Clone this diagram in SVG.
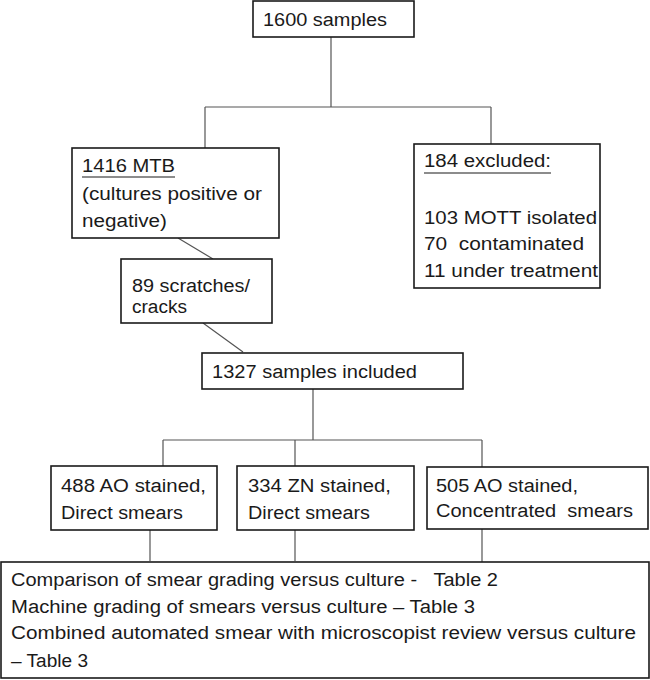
<svg xmlns="http://www.w3.org/2000/svg" width="650" height="680" viewBox="0 0 650 680">
<style>
.box{fill:#fff;stroke:#1a1a1a;stroke-width:1.6}
.t{font-family:"Liberation Sans",Arial,sans-serif;font-size:18px;fill:#1a1a1a}
.u{text-decoration:underline}
.c{fill:none;stroke:#555;stroke-width:1.2}
</style>
<rect width="650" height="680" fill="#fff"/>
<g id="connectors">
<path class="c" d="M331,37V107M205,107H491M205,107V148M491,107V144"/>
<path class="c" d="M178,238L213,259M203,323L243,352"/>
<path class="c" d="M313,389V440M163,440H482M163,440V466M295,440V466M482,440V467"/>
<path class="c" d="M150,530V561M295,530V561M482,529V562"/>
</g>
<g id="n1600">
<rect class="box" x="253" y="1" width="161" height="36"/>
<text class="t" x="263" y="26" textLength="124" lengthAdjust="spacingAndGlyphs">1600 samples</text>
</g>
<g id="n1416">
<rect class="box" x="72" y="148" width="207" height="90"/>
<text class="t" x="82" y="172" textLength="93" lengthAdjust="spacingAndGlyphs">1416 MTB</text>
<line x1="82" y1="177" x2="175" y2="177" stroke="#1a1a1a" stroke-width="1.2"/>
<text class="t" x="82" y="200" textLength="180" lengthAdjust="spacingAndGlyphs">(cultures positive or</text>
<text class="t" x="82" y="227" textLength="85" lengthAdjust="spacingAndGlyphs">negative)</text>
</g>
<g id="n184">
<rect class="box" x="414" y="144" width="186" height="144"/>
<text class="t" x="424" y="167" textLength="127" lengthAdjust="spacingAndGlyphs">184 excluded:</text>
<line x1="424" y1="173" x2="551" y2="173" stroke="#1a1a1a" stroke-width="1.2"/>
<text class="t" x="424" y="224" textLength="173" lengthAdjust="spacingAndGlyphs">103 MOTT isolated</text>
<text class="t" x="424" y="250" textLength="160" lengthAdjust="spacingAndGlyphs" xml:space="preserve">70  contaminated</text>
<text class="t" x="424" y="277" textLength="174" lengthAdjust="spacingAndGlyphs">11 under treatment</text>
</g>
<g id="n89">
<rect class="box" x="121" y="259" width="151" height="64"/>
<text class="t" x="132" y="292" textLength="118" lengthAdjust="spacingAndGlyphs">89 scratches/</text>
<text class="t" x="132" y="313" textLength="55" lengthAdjust="spacingAndGlyphs">cracks</text>
</g>
<g id="n1327">
<rect class="box" x="202" y="353" width="261" height="36"/>
<text class="t" x="212" y="378" textLength="205" lengthAdjust="spacingAndGlyphs">1327 samples included</text>
</g>
<g id="n488">
<rect class="box" x="51" y="466" width="166" height="64"/>
<text class="t" x="61" y="492" textLength="145" lengthAdjust="spacingAndGlyphs">488 AO stained,</text>
<text class="t" x="61" y="519" textLength="122" lengthAdjust="spacingAndGlyphs">Direct smears</text>
</g>
<g id="n334">
<rect class="box" x="237" y="466" width="177" height="64"/>
<text class="t" x="248" y="492" textLength="143" lengthAdjust="spacingAndGlyphs">334 ZN stained,</text>
<text class="t" x="248" y="519" textLength="122" lengthAdjust="spacingAndGlyphs">Direct smears</text>
</g>
<g id="n505">
<rect class="box" x="427" y="467" width="221" height="62"/>
<text class="t" x="436" y="492" textLength="142" lengthAdjust="spacingAndGlyphs">505 AO stained,</text>
<text class="t" x="436" y="517" textLength="197" lengthAdjust="spacingAndGlyphs" xml:space="preserve">Concentrated  smears</text>
</g>
<g id="nresults">
<rect class="box" x="1" y="562" width="648" height="116"/>
<text class="t" x="11" y="586" textLength="487" lengthAdjust="spacingAndGlyphs" xml:space="preserve">Comparison of smear grading versus culture -   Table 2</text>
<text class="t" x="11" y="613" textLength="464" lengthAdjust="spacingAndGlyphs">Machine grading of smears versus culture – Table 3</text>
<text class="t" x="11" y="639" textLength="625" lengthAdjust="spacingAndGlyphs">Combined automated smear with microscopist review versus culture</text>
<text class="t" x="11" y="667" textLength="77" lengthAdjust="spacingAndGlyphs">– Table 3</text>
</g>
</svg>
